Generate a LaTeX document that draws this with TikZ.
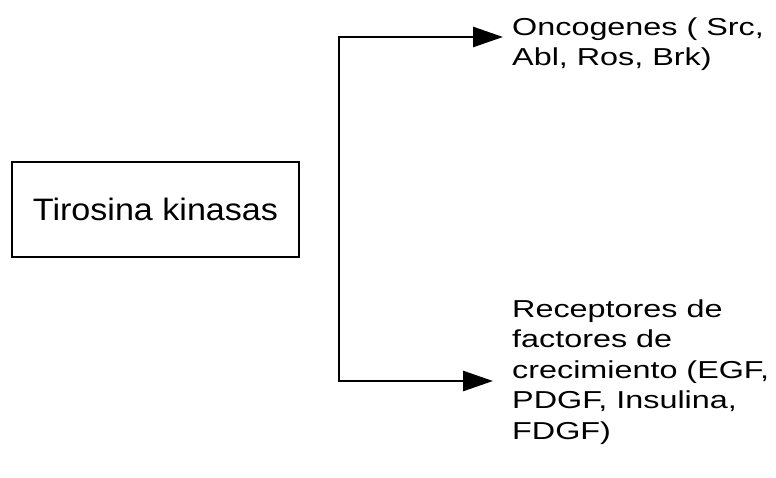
\documentclass[tikz,border=0pt]{standalone}
\usepackage{fontspec}
\setmainfont{Liberation Sans}
\newfontfamily\widefont[FakeStretch=1.32]{Liberation Sans}
\newfontfamily\boxfont[FakeStretch=1.1]{Liberation Sans}
\usetikzlibrary{arrows.meta}
\begin{document}
\begin{tikzpicture}[x=1pt,y=-1pt,
  boxstyle/.style={draw,line width=2pt,minimum width=287pt,minimum height=95pt,inner sep=0pt,
    font=\boxfont\fontsize{31}{36}\selectfont},
  label/.style={anchor=base west,align=left,inner sep=0pt,
    font=\widefont\fontsize{24.5}{30.5}\selectfont},
  conn/.style={line width=2.7pt},
  arr/.style={conn,-{Triangle[length=30pt,width=20pt]}}]
\useasboundingbox (0,0) rectangle (776,478);
\node[boxstyle] (box) at (155.5,209.5) {Tirosina kinasas};
\node[label] (onc) at (512,66) {Oncogenes ( Src,\\Abl, Ros, Brk)};
\node[label] (rec) at (512,439) {Receptores de\\factores de\\crecimiento (EGF,\\PDGF, Insulina,\\FDGF)};
\coordinate (top) at (339,37);
\coordinate (bot) at (339,381);
\coordinate (tipA) at (503,37);
\coordinate (tipB) at (493,381);
\draw[conn] (bot) -- (top);
\draw[arr] ([xshift=-1.35pt]top) -- (tipA);
\draw[arr] ([xshift=-1.35pt]bot) -- (tipB);
\end{tikzpicture}
\end{document}
